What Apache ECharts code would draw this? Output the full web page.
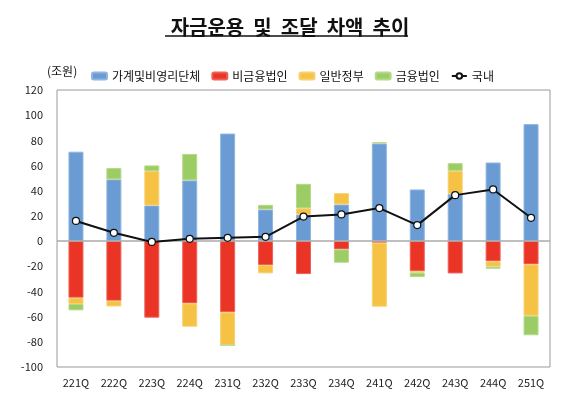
<!DOCTYPE html>
<html>
<head>
<meta charset="utf-8">
<script src="https://cdn.jsdelivr.net/npm/echarts@6/dist/echarts.min.js"></script>
<style>
  html, body { margin: 0; padding: 0; background: #fff; }
  #chart { width: 580px; height: 399px; }
</style>
</head>
<body>
<div id="chart"></div>
<script>
const quarters = ['221Q', '222Q', '223Q', '224Q', '231Q', '232Q', '233Q', '234Q', '241Q', '242Q', '243Q', '244Q', '251Q'];
const household = [71, 49, 28.3, 48.2, 85.4, 25.1, 21, 29.1, 77.5, 41, 37.3, 62.4, 92.9];
const nonFinancial = [-45, -47.4, -60.8, -49.5, -56.6, -19, -26.2, -6.6, -1.3, -24, -25.7, -16.1, -18.5];
const government = [-5, -4.5, 27.3, -18.5, -26, -6.6, 5, 9, -50.8, -1.1, 18.5, -4.3, -40.8];
const financial = [-5, 9, 4.5, 21, 0, 3.7, 19.5, -10.6, 1, -3.5, 6.1, -1.6, -15.5];
const domestic = [16, 6.6, -0.7, 1.8, 2.6, 3.4, 19.5, 21.2, 26.2, 12.7, 36.5, 41, 18.5];

const font = '"Noto Sans CJK KR", "Noto Sans", sans-serif';

function renderChart() {
  const chart = echarts.init(document.getElementById('chart'), null, { renderer: 'canvas' });

  const bar = (name, data, color, border) => ({
    name: name,
    type: 'bar',
    stack: 'total',
    barWidth: 15,
    data: data,
    itemStyle: { color: color, borderColor: border, borderWidth: 1 }
  });

  const series = [
    bar('가계및비영리단체', household, '#6a9bd2', '#8fb5e0'),
    bar('비금융법인', nonFinancial, '#e93426', '#ef6157'),
    bar('일반정부', government, '#f5c243', '#f8d070'),
    bar('금융법인', financial, '#9ccc64', '#b5d98b'),
    {
      name: '국내',
      type: 'line',
      data: domestic,
      symbol: 'circle',
      symbolSize: 7,
      z: 5,
      lineStyle: { color: '#111', width: 2 },
      itemStyle: { color: '#fff', borderColor: '#111', borderWidth: 1.2 }
    }
  ];
  // zero line
  series[0].markLine = {
    silent: true,
    symbol: 'none',
    label: { show: false },
    lineStyle: { color: '#aaa', width: 1.5, type: 'solid' },
    data: [{ yAxis: 0 }]
  };

  const option = {
    animation: false,
    textStyle: { fontFamily: font },
    title: {
      text: '자금운용  및  조달  차액  추이',
      left: 'center',
      top: 12,
      textStyle: { fontSize: 20, fontWeight: 'bold', color: '#111', fontFamily: font }
    },
    graphic: [
      {
        type: 'line',
        shape: { x1: 165, y1: 36, x2: 408, y2: 36 },
        style: { stroke: '#111', lineWidth: 1.5 }
      },
      {
        type: 'text',
        left: 47,
        top: 65,
        style: { text: '(조원)', fontSize: 12, fill: '#111', fontFamily: font }
      }
    ],
    legend: {
      left: 86,
      top: 65,
      itemWidth: 15,
      itemHeight: 7,
      itemGap: 11,
      textStyle: { fontSize: 12, color: '#111', fontFamily: font },
      data: ['가계및비영리단체', '비금융법인', '일반정부', '금융법인', '국내']
    },
    grid: {
      left: 57,
      right: 30,
      top: 90,
      bottom: 32,
      outerBoundsMode: 'none',
      show: true,
      borderColor: '#999',
      borderWidth: 1
    },
    xAxis: {
      type: 'category',
      data: quarters,
      axisLine: { show: false },
      axisTick: { show: false },
      axisLabel: { color: '#222', fontSize: 11, margin: 10, fontFamily: font }
    },
    yAxis: {
      type: 'value',
      min: -100,
      max: 120,
      interval: 20,
      axisLine: { show: false },
      axisTick: { show: false },
      splitLine: { show: false },
      axisLabel: { color: '#222', fontSize: 11, margin: 14, fontFamily: font }
    },
    series: series
  };
  chart.setOption(option);
  return chart;
}

renderChart();
</script>
</body>
</html>
